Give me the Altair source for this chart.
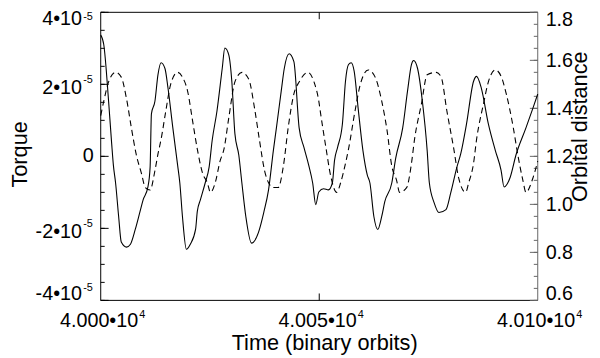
import altair as alt
import pandas as pd
import numpy as np

# ---- data ----
T0 = 40000.0
TORQUE_TIME = [0.0, 0.7, 1.8, 2.5, 2.9, 3.4, 4.1, 4.7, 5.9, 6.8, 7.9, 9.0, 9.7, 10.8, 11.3, 11.6,
               12.4, 13.1, 13.8, 14.7, 15.4, 16.5, 17.6, 18.1, 18.7, 19.6, 20.5, 21.7, 22.1, 22.8,
               23.9, 24.8, 25.5, 26.6, 27.8, 28.4, 29.3, 30.0, 30.7, 31.6, 32.3, 33.2, 34.5, 36.1,
               37.3, 38.4, 39.5, 40.2, 41.3, 42.0, 43.1, 44.2, 45.4, 46.5, 47.6, 48.5, 49.2, 49.9,
               51.0, 52.1, 53.0, 53.5, 54.2, 55.3, 56.0, 56.7, 57.3, 58.0, 58.9, 60.0, 61.0, 61.6,
               62.5, 63.4, 64.3, 65.0, 66.6, 67.5, 69.1, 70.2, 71.1, 71.6, 72.5, 73.6, 74.7, 75.2,
               76.3, 77.4, 79.0, 80.1, 81.5, 82.4, 83.7, 85.3, 86.0, 87.1, 88.7, 90.3, 91.6, 92.3,
               93.7, 95.0, 97.3, 98.9, 100.0]
TORQUE_E5 = [3.37, 3.10, 1.53, 0.36, -0.25, -0.74, -1.67, -2.38, -2.52, -2.44, -2.03, -1.53, -1.21,
             -0.85, -0.30, 1.18, 1.53, 2.27, 2.60, 2.44, 1.89, 0.79, -0.25, -0.74, -1.67, -2.58,
             -2.44, -2.03, -1.53, -1.21, -0.74, -0.30, 0.44, 1.26, 2.44, 3.01, 2.82, 2.08, 0.63,
             0.03, -0.74, -1.67, -2.41, -2.11, -1.56, -0.93, 0.16, 0.79, 1.81, 2.44, 2.85, 2.63,
             0.79, 0.25, -0.25, -0.74, -1.34, -0.99, -0.90, -0.93, -0.74, -0.11, 0.25, 0.90, 2.08,
             2.55, 2.60, 2.36, 1.34, 0.16, -0.52, -0.74, -1.67, -2.03, -1.67, -1.26, -0.74, -0.05,
             0.79, 1.81, 2.55, 2.66, 2.44, 1.53, 0.16, -0.74, -1.29, -1.56, -1.48, -1.01, -0.30,
             0.08, 0.90, 2.08, 2.22, 1.89, 0.90, 0.16, -0.38, -0.85, -0.58, 0.03, 0.79, 1.34, 1.73]

DIST_TIME = [0.0, 0.7, 1.8, 3.4, 4.7, 5.9, 7.0, 8.1, 9.3, 10.2, 11.3, 12.4, 13.1, 13.8, 14.9, 16.0,
             17.6, 18.7, 19.9, 21.0, 22.1, 23.3, 24.4, 25.1, 26.2, 27.3, 28.2, 29.3, 30.7, 32.3,
             33.9, 35.2, 36.3, 37.5, 38.4, 39.5, 40.6, 41.8, 42.9, 44.2, 45.4, 47.4, 48.8, 49.9,
             50.3, 51.5, 52.6, 54.0, 54.9, 56.0, 56.7, 58.2, 59.4, 61.2, 62.8, 64.3, 65.5, 66.6,
             67.7, 68.4, 70.0, 71.1, 71.8, 73.4, 74.7, 76.8, 77.9, 79.2, 80.8, 81.9, 83.5, 84.2,
             85.3, 86.0, 87.6, 88.7, 90.3, 91.7, 92.8, 94.4, 95.5, 96.6, 97.3, 98.9, 100.0]
DIST = [1.37, 1.43, 1.51, 1.55, 1.53, 1.44, 1.32, 1.21, 1.13, 1.07, 1.06, 1.14, 1.21, 1.27, 1.39,
        1.50, 1.55, 1.53, 1.47, 1.35, 1.23, 1.13, 1.09, 1.05, 1.09, 1.18, 1.23, 1.36, 1.51, 1.55,
        1.52, 1.40, 1.27, 1.14, 1.09, 1.07, 1.07, 1.16, 1.32, 1.46, 1.51, 1.55, 1.51, 1.43, 1.38,
        1.24, 1.12, 1.05, 1.09, 1.17, 1.23, 1.39, 1.50, 1.56, 1.53, 1.43, 1.31, 1.16, 1.10, 1.05,
        1.07, 1.17, 1.27, 1.42, 1.54, 1.55, 1.53, 1.39, 1.23, 1.11, 1.05, 1.09, 1.17, 1.27, 1.42,
        1.51, 1.56, 1.53, 1.46, 1.32, 1.20, 1.10, 1.05, 1.11, 1.18]

# axis ticks / labels
LEFT_TICKS = [4e-5, 2e-5, 0.0, -2e-5, -4e-5]
LEFT_BASE = ["4\u202210", "2\u202210", "0", "-2\u202210", "-4\u202210"]
LEFT_EXP = ["-5", "-5", "", "-5", "-5"]
RIGHT_TICKS = [0.6, 0.8, 1.0, 1.2, 1.4, 1.6, 1.8]
RIGHT_LABELS = ["0.6", "0.8", "1.0", "1.2", "1.4", "1.6", "1.8"]
X_TICKS = [40000, 40050, 40100]
X_BASE = ["4.000\u202210", "4.005\u202210", "4.010\u202210"]
X_EXP = ["4", "4", "4"]
X_INNER_TICKS = [40050]

W, H = 443, 292
FONT = "Liberation Sans"
FS = 20
BLACK = alt.value("black")

torque_df = pd.DataFrame({"t": [T0 + v for v in TORQUE_TIME], "torque": [v * 1e-5 for v in TORQUE_E5]})
dist_df = pd.DataFrame({"t": [T0 + v for v in DIST_TIME], "dist": DIST})

xs = alt.Scale(domain=[40000, 40100], nice=False, zero=False)
ysT = alt.Scale(domain=[-4e-5, 4e-5], nice=False, zero=False)
ysD = alt.Scale(domain=[0.6, 1.8], nice=False, zero=False)

one = pd.DataFrame({"k": [0]})

solid = alt.Chart(torque_df).mark_line(color="black", strokeWidth=1.1, interpolate="monotone").encode(
    x=alt.X("t:Q", scale=xs, axis=None), y=alt.Y("torque:Q", scale=ysT, axis=None))
dashed = alt.Chart(dist_df).mark_line(color="black", strokeWidth=1.1, strokeDash=[6, 4],
                                      interpolate="monotone").encode(
    x=alt.X("t:Q", scale=xs, axis=None), y=alt.Y("dist:Q", scale=ysD, axis=None))

frame_left = alt.Chart(one).mark_rule(color="black", strokeWidth=1).encode(
    x=alt.value(0), y=alt.value(0), y2=alt.value(H))
frame_bottom = alt.Chart(one).mark_rule(color="black", strokeWidth=1).encode(
    x=alt.value(0), x2=alt.value(W), y=alt.value(H))
frame_top = alt.Chart(one).mark_rule(color="black", strokeWidth=1).encode(
    x=alt.value(0), x2=alt.value(W), y=alt.value(0))
frame_right = alt.Chart(one).mark_rule(color="#666666", strokeWidth=1).encode(
    x=alt.value(W), y=alt.value(0), y2=alt.value(H))

lmaj = pd.DataFrame({"v": np.arange(-4, 4.01, 2) * 1e-5})
lmin = pd.DataFrame({"v": np.arange(-4, 4.01, 0.5) * 1e-5})
rmaj = pd.DataFrame({"v": RIGHT_TICKS})
rmin = pd.DataFrame({"v": np.round(np.arange(0.6, 1.801, 0.05), 3)})
xin = pd.DataFrame({"v": X_INNER_TICKS})

lt_maj = alt.Chart(lmaj).mark_rule(color="black").encode(
    x=alt.value(0), x2=alt.value(8), y=alt.Y("v:Q", scale=ysT, axis=None))
lt_min = alt.Chart(lmin).mark_rule(color="black").encode(
    x=alt.value(0), x2=alt.value(4), y=alt.Y("v:Q", scale=ysT, axis=None))
rt_maj = alt.Chart(rmaj).mark_rule(color="#666666").encode(
    x=alt.value(W - 8), x2=alt.value(W), y=alt.Y("v:Q", scale=ysD, axis=None))
rt_min = alt.Chart(rmin).mark_rule(color="#666666").encode(
    x=alt.value(W - 4), x2=alt.value(W), y=alt.Y("v:Q", scale=ysD, axis=None))
xt_bot = alt.Chart(xin).mark_rule(color="black").encode(
    x=alt.X("v:Q", scale=xs, axis=None), y=alt.value(H - 7), y2=alt.value(H))
xt_top = alt.Chart(xin).mark_rule(color="black").encode(
    x=alt.X("v:Q", scale=xs, axis=None), y=alt.value(0), y2=alt.value(7))

ll_all = pd.DataFrame({"v": LEFT_TICKS, "base": LEFT_BASE, "exp": LEFT_EXP})
rl_all = pd.DataFrame({"v": RIGHT_TICKS, "lab": RIGHT_LABELS})
xl_df = pd.DataFrame({"v": X_TICKS, "base": X_BASE, "exp": X_EXP})

# left labels: split into top (flush down), middle, zero, bottom (flush up)
ll_top = ll_all.iloc[[0]]
ll_mid = ll_all[(ll_all.v.abs() > 0) & (ll_all.v.abs() < 3.9e-5)]
ll_zero = ll_all[ll_all.v == 0]
ll_bot = ll_all.iloc[[len(ll_all) - 1]]


def left_label(df, base_dy, exp_dy):
    b = alt.Chart(df).mark_text(align="right", baseline="alphabetic", fontSize=FS, font=FONT,
                                dy=base_dy).encode(
        x=alt.value(-19), y=alt.Y("v:Q", scale=ysT, axis=None), text="base:N", color=BLACK)
    e = alt.Chart(df).mark_text(align="right", baseline="alphabetic", fontSize=11, font=FONT,
                                dy=exp_dy).encode(
        x=alt.value(-8), y=alt.Y("v:Q", scale=ysT, axis=None), text="exp:N", color=BLACK)
    return [b, e]


left_labels = left_label(ll_top, 13, 8) + left_label(ll_mid, 10, -1) + left_label(ll_bot, 0, -10)
lz = alt.Chart(ll_zero).mark_text(align="right", baseline="middle", fontSize=FS, font=FONT).encode(
    x=alt.value(-7), y=alt.Y("v:Q", scale=ysT, axis=None), text="base:N", color=BLACK)

rl_top = rl_all.iloc[[len(rl_all) - 1]]
rl_mid = rl_all.iloc[1:len(rl_all) - 1]
rl_bot = rl_all.iloc[[0]]


def right_label(df, dy):
    return alt.Chart(df).mark_text(align="left", baseline="alphabetic", fontSize=FS, font=FONT,
                                   dy=dy).encode(
        x=alt.value(W + 8), y=alt.Y("v:Q", scale=ysD, axis=None), text="lab:N", color=BLACK)


right_labels = [right_label(rl_top, 14), right_label(rl_mid, 7), right_label(rl_bot, 0)]

xl_base = alt.Chart(xl_df).mark_text(align="right", baseline="alphabetic", fontSize=FS, font=FONT,
                                     dx=38).encode(
    x=alt.X("v:Q", scale=xs, axis=None), y=alt.value(H + 27), text="base:N", color=BLACK)
xl_exp = alt.Chart(xl_df).mark_text(align="left", baseline="alphabetic", fontSize=11, font=FONT,
                                    dx=39).encode(
    x=alt.X("v:Q", scale=xs, axis=None), y=alt.value(H + 18), text="exp:N", color=BLACK)

x_title = alt.Chart(one).mark_text(align="center", baseline="alphabetic", fontSize=22, font=FONT).encode(
    x=alt.value(227), y=alt.value(H + 50), text=alt.value("Time (binary orbits)"), color=BLACK)
y_title = alt.Chart(one).mark_text(align="center", baseline="alphabetic", fontSize=22, font=FONT,
                                   angle=270).encode(
    x=alt.value(-75), y=alt.value(144), text=alt.value("Torque"), color=BLACK)
y2_title = alt.Chart(one).mark_text(align="center", baseline="alphabetic", fontSize=22, font=FONT,
                                    angle=270).encode(
    x=alt.value(W + 50), y=alt.value(116), text=alt.value("Orbital distance"), color=BLACK)

chart = alt.layer(
    frame_left, frame_bottom, frame_top, frame_right,
    lt_maj, lt_min, rt_maj, rt_min, xt_bot, xt_top,
    *left_labels, lz, *right_labels, xl_base, xl_exp,
    x_title, y_title, y2_title,
    dashed, solid,
).resolve_scale(y="independent").properties(
    width=W, height=H,
    autosize=alt.AutoSizeParams(type="none"),
    padding={"left": 94, "top": 2, "right": 55, "bottom": 54},
    background="white",
).configure_view(stroke=None)

chart.save("out.html", embed_options={"renderer": "svg", "actions": False})
